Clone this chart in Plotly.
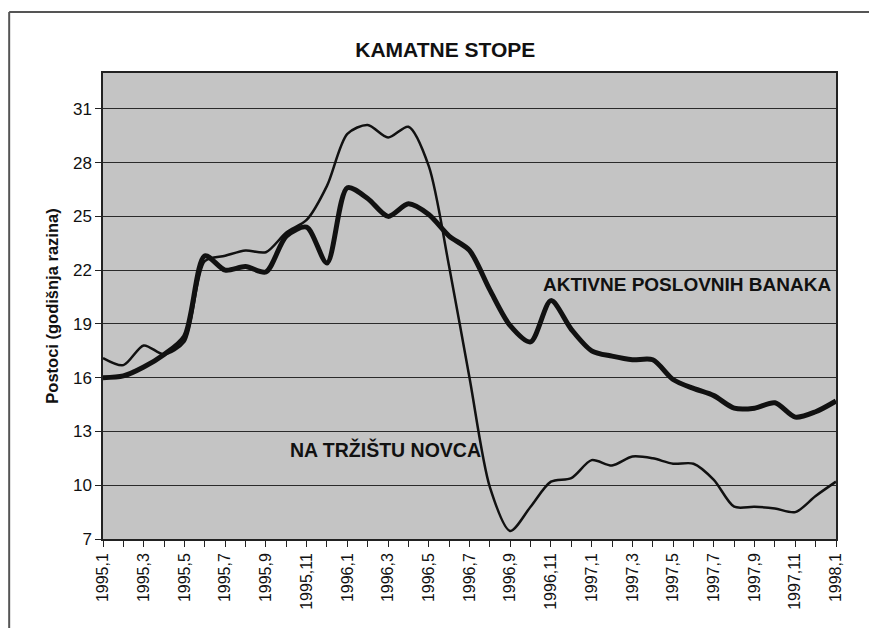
import plotly.graph_objects as go

# mjeseci 1995,1 ... 1998,1
mjeseci = [f"{g},{m}" for g in (1995, 1996, 1997) for m in range(1, 13)] + ["1998,1"]

aktivne = [16.0, 16.1, 16.6, 17.3, 18.3, 22.8, 22.0, 22.2, 21.9, 23.9, 24.4, 22.4,
           26.6, 26.0, 25.0, 25.7, 25.1, 23.9, 23.1, 20.9, 18.9, 18.0, 20.3, 18.7,
           17.5, 17.2, 17.0, 17.0, 15.9, 15.4, 15.0, 14.3, 14.3, 14.6, 13.8, 14.1,
           14.7]

trziste = [17.1, 16.7, 17.8, 17.3, 18.0, 22.5, 22.8, 23.1, 23.0, 24.1, 24.8, 26.7,
           29.6, 30.1, 29.4, 30.0, 27.8, 22.2, 16.0, 9.9, 7.45, 8.8, 10.2, 10.4,
           11.4, 11.1, 11.6, 11.5, 11.2, 11.2, 10.3, 8.8, 8.8, 8.7, 8.5, 9.4,
           10.2]

y_ticks = [7, 10, 13, 16, 19, 22, 25, 28, 31]

idx = list(range(len(mjeseci)))
tick_text = [m if i % 2 == 0 else "" for i, m in enumerate(mjeseci)]

narrow = "Liberation Sans Narrow, Arial Narrow, Liberation Sans, Arial"

fig = go.Figure()
fig.add_trace(go.Scatter(x=idx, y=trziste, mode="lines",
                         line=dict(color="#111111", width=2.5, shape="spline", smoothing=0.8)))
fig.add_trace(go.Scatter(x=idx, y=aktivne, mode="lines",
                         line=dict(color="#111111", width=5, shape="spline", smoothing=0.8)))

# stranica ima 8px margine, pa je slika manja od prozora
fig.update_layout(
    width=861, height=620,
    paper_bgcolor="white", plot_bgcolor="#c4c4c4",
    showlegend=False,
    margin=dict(l=95, r=33, t=65, b=89),
    font=dict(family="Liberation Sans, Arial", color="#111111"),
    title=dict(text="<b>KAMATNE STOPE</b>", xref="paper", x=0.467, xanchor="center",
               y=1 - 42 / 620, yanchor="middle", font=dict(size=21)),
)
fig.update_xaxes(range=[0, 36], tickvals=idx, ticktext=tick_text, tickangle=-90,
                 ticks="outside", ticklen=6, tickcolor="#222", showgrid=False,
                 zeroline=False, showline=True, linecolor="#222", linewidth=1.5,
                 mirror=True, tickfont=dict(size=16, family=narrow))
fig.update_yaxes(range=[7, 33], tickvals=y_ticks, ticks="outside", ticklen=6,
                 tickcolor="#222", showgrid=True, gridcolor="#2a2a2a", gridwidth=1,
                 zeroline=False, showline=True, linecolor="#222", linewidth=1.5,
                 mirror=True, tickfont=dict(size=17, family=narrow),
                 title=dict(text="<b>Postoci (godišnja razina)</b>", font=dict(size=16.5),
                            standoff=10))

fig.add_annotation(x=28.7, y=21.2, text="<b>AKTIVNE POSLOVNIH BANAKA</b>",
                   showarrow=False, font=dict(size=19))
fig.add_annotation(x=13.85, y=12.0, text="<b>NA TRŽIŠTU NOVCA</b>",
                   showarrow=False, font=dict(size=19.5))

# okvir oko cijelog grafikona
fig.add_shape(type="line", xref="paper", yref="paper", x0=-0.128, x1=1.08, y0=1.131, y1=1.131,
              line=dict(color="#555", width=2))
fig.add_shape(type="line", xref="paper", yref="paper", x0=-0.128, x1=-0.128, y0=1.131, y1=-0.25,
              line=dict(color="#555", width=2))

fig.write_html("out.html")
